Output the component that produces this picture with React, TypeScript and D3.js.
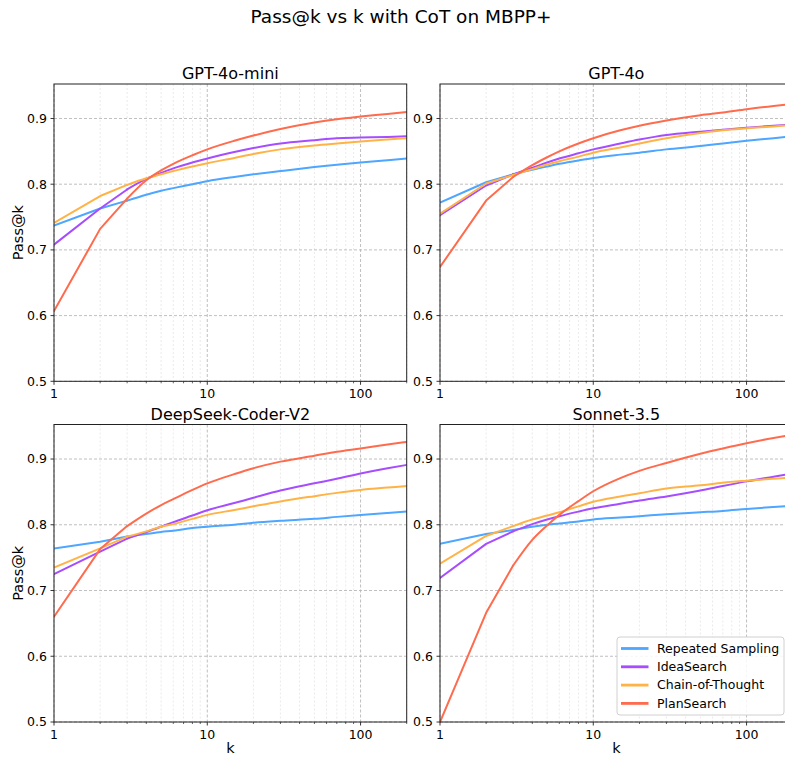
import React from "react";
import * as d3 from "d3";

const K = [1, 2, 3, 4, 5, 6, 8, 10, 15, 20, 30, 50, 70, 100, 150, 200];

const SERIES_NAMES = ["Repeated Sampling", "IdeaSearch", "Chain-of-Thought", "PlanSearch"];
const SERIES_COLORS = ["#4da6ff", "#a64dff", "#ffb347", "#ff6b4d"];

const PANEL_TITLES = ["GPT-4o-mini", "GPT-4o", "DeepSeek-Coder-V2", "Sonnet-3.5"];

// GPT-4o-mini
const miniRS = [0.737, 0.763, 0.775, 0.784, 0.790, 0.794, 0.800, 0.8046, 0.811, 0.815, 0.820, 0.826, 0.8295, 0.833, 0.8365, 0.839];
const miniIdea = [0.708, 0.763, 0.792, 0.808, 0.817, 0.824, 0.833, 0.839, 0.849, 0.855, 0.862, 0.867, 0.870, 0.871, 0.872, 0.873];
const miniCoT = [0.741, 0.782, 0.799, 0.809, 0.815, 0.820, 0.827, 0.832, 0.840, 0.846, 0.853, 0.859, 0.862, 0.865, 0.868, 0.870];
const miniPlan = [0.607, 0.732, 0.778, 0.806, 0.821, 0.831, 0.844, 0.853, 0.866, 0.874, 0.884, 0.894, 0.899, 0.903, 0.907, 0.910];

// GPT-4o
const gpt4oRS = [0.772, 0.803, 0.815, 0.822, 0.827, 0.831, 0.836, 0.840, 0.845, 0.848, 0.853, 0.858, 0.862, 0.866, 0.870, 0.873];
const gpt4oIdea = [0.753, 0.798, 0.815, 0.825, 0.833, 0.839, 0.847, 0.853, 0.862, 0.868, 0.875, 0.880, 0.883, 0.886, 0.889, 0.891];
const gpt4oCoT = [0.755, 0.801, 0.814, 0.823, 0.830, 0.835, 0.842, 0.848, 0.856, 0.862, 0.870, 0.878, 0.882, 0.885, 0.888, 0.890];
const gpt4oPlan = [0.674, 0.775, 0.811, 0.829, 0.841, 0.850, 0.862, 0.870, 0.882, 0.889, 0.897, 0.905, 0.909, 0.914, 0.919, 0.922];

// DeepSeek-Coder-V2
const dsRS = [0.764, 0.774, 0.782, 0.786, 0.789, 0.791, 0.795, 0.797, 0.800, 0.803, 0.806, 0.809, 0.812, 0.815, 0.818, 0.820];
const dsIdea = [0.725, 0.759, 0.779, 0.789, 0.797, 0.804, 0.814, 0.822, 0.833, 0.841, 0.852, 0.863, 0.870, 0.878, 0.886, 0.891];
const dsCoT = [0.735, 0.764, 0.782, 0.790, 0.797, 0.801, 0.809, 0.815, 0.8225, 0.828, 0.8355, 0.8435, 0.8485, 0.853, 0.8565, 0.859];
const dsPlan = [0.660, 0.763, 0.798, 0.817, 0.830, 0.839, 0.853, 0.863, 0.877, 0.886, 0.896, 0.905, 0.911, 0.916, 0.922, 0.926];

// Sonnet-3.5
const sonRS = [0.771, 0.786, 0.792, 0.797, 0.800, 0.802, 0.805, 0.808, 0.811, 0.813, 0.816, 0.819, 0.821, 0.824, 0.827, 0.829];
const sonIdea = [0.719, 0.771, 0.790, 0.801, 0.808, 0.813, 0.820, 0.825, 0.832, 0.837, 0.843, 0.852, 0.859, 0.866, 0.873, 0.878];
const sonCoT = [0.741, 0.783, 0.798, 0.808, 0.814, 0.819, 0.828, 0.835, 0.843, 0.848, 0.855, 0.860, 0.864, 0.867, 0.870, 0.872];
const sonPlan = [0.500, 0.666, 0.738, 0.777, 0.799, 0.815, 0.836, 0.851, 0.871, 0.882, 0.894, 0.908, 0.916, 0.924, 0.932, 0.937];

const Y_TICKS = [0.5, 0.6, 0.7, 0.8, 0.9];
const X_TICK_LABELS = ["1", "10", "100"];

const PANEL_DATA = [
  [miniRS, miniIdea, miniCoT, miniPlan],
  [gpt4oRS, gpt4oIdea, gpt4oCoT, gpt4oPlan],
  [dsRS, dsIdea, dsCoT, dsPlan],
  [sonRS, sonIdea, sonCoT, sonPlan],
];

const W = 785;
const H = 759;
const FONT = "DejaVu Sans, sans-serif";

const PANEL_BOXES = [
  { x: 54, y: 84, w: 352.7, h: 297.3 },
  { x: 440, y: 84, w: 352.7, h: 297.3 },
  { x: 54, y: 424.5, w: 352.7, h: 297.5 },
  { x: 440, y: 424.5, w: 352.7, h: 297.5 },
];

function Panel({ idx }: { idx: number }) {
  const b = PANEL_BOXES[idx];
  const x = d3.scaleLog().domain([1, 200]).range([b.x, b.x + b.w]);
  const y = d3.scaleLinear().domain([0.5, 0.9525]).range([b.y + b.h, b.y]);
  const xt = x.ticks();
  const lineLin = d3
    .line<[number, number]>()
    .x((d) => x(d[0]))
    .y((d) => y(d[1]));
  const lineSmooth = d3
    .line<[number, number]>()
    .x((d) => x(d[0]))
    .y((d) => y(d[1]))
    .curve(d3.curveMonotoneX);
  const isMajor = (t: number) => Math.abs(Math.log10(t) - Math.round(Math.log10(t))) < 1e-9;
  const clipId = `clip${idx}`;
  const left = idx % 2 === 0;
  const bottom = idx >= 2;
  return (
    <g>
      <defs>
        <clipPath id={clipId}>
          <rect x={b.x} y={b.y - 1} width={b.w} height={b.h + 2} />
        </clipPath>
      </defs>
      {xt.filter((t) => !isMajor(t)).map((t) => (
        <line key={"mg" + t} x1={x(t)} x2={x(t)} y1={b.y} y2={b.y + b.h}
          stroke="#e4e4e4" strokeWidth={0.8} strokeDasharray="2,2" />
      ))}
      {xt.filter((t) => isMajor(t)).map((t) => (
        <line key={"Mg" + t} x1={x(t)} x2={x(t)} y1={b.y} y2={b.y + b.h}
          stroke="#b8b8b8" strokeWidth={0.9} strokeDasharray="3,2" />
      ))}
      {Y_TICKS.map((t) => (
        <line key={"yg" + t} x1={b.x} x2={b.x + b.w} y1={y(t)} y2={y(t)}
          stroke="#b8b8b8" strokeWidth={0.9} strokeDasharray="3,2" />
      ))}
      <g clipPath={`url(#${clipId})`}>
        {PANEL_DATA[idx].map((vals, si) => {
          const pts = K.map((k, i) => [k, vals[i]] as [number, number]);
          return (
            <g key={si}>
              <path d={lineLin(pts.slice(0, 3)) || ""} fill="none" stroke={SERIES_COLORS[si]}
                strokeWidth={2} strokeLinejoin="round" strokeLinecap="round" />
              <path d={lineSmooth(pts.slice(2)) || ""} fill="none" stroke={SERIES_COLORS[si]}
                strokeWidth={2} strokeLinejoin="round" strokeLinecap="round" />
            </g>
          );
        })}
      </g>
      <rect x={b.x} y={b.y} width={b.w} height={b.h} fill="none" stroke="#222" strokeWidth={1} />
      {Y_TICKS.map((t) => (
        <g key={"yt" + t}>
          <line x1={b.x - 3.5} x2={b.x} y1={y(t)} y2={y(t)} stroke="#222" strokeWidth={0.9} />
          <text x={b.x - 7} y={y(t)} dy="0.35em" textAnchor="end" fontSize={12.5} fontFamily={FONT} fill="#000">
            {d3.format(".1f")(t)}
          </text>
        </g>
      ))}
      {xt.map((t) => (
        <line key={"xt" + t} x1={x(t)} x2={x(t)} y1={b.y + b.h} y2={b.y + b.h + (isMajor(t) ? 3.5 : 2)}
          stroke="#222" strokeWidth={isMajor(t) ? 0.9 : 0.7} />
      ))}
      {xt.filter((t) => isMajor(t)).map((t, i) => (
        <text key={"xl" + t} x={x(t)} y={b.y + b.h + 7} dy="0.8em" textAnchor="middle" fontSize={12.5} fontFamily={FONT} fill="#000">
          {X_TICK_LABELS[i]}
        </text>
      ))}
      <text x={b.x + b.w / 2} y={b.y - 5} textAnchor="middle" fontSize={16} fontFamily={FONT} fill="#000">
        {PANEL_TITLES[idx]}
      </text>
      {left && (
        <text transform={`translate(18,${b.y + b.h / 2}) rotate(-90)`} textAnchor="middle" dy="0.35em"
          fontSize={14.5} fontFamily={FONT} fill="#000">Pass@k</text>
      )}
      {bottom && (
        <text x={b.x + b.w / 2} y={748} dy="0.35em" textAnchor="middle" fontSize={14.5} fontFamily={FONT} fill="#000">k</text>
      )}
    </g>
  );
}

function Legend() {
  const lx = 617;
  const ly = 637;
  const lw = 167;
  const lh = 78;
  return (
    <g>
      <rect x={lx} y={ly} width={lw} height={lh} rx={3} fill="#fff" fillOpacity={0.85} stroke="#d0d0d0" strokeWidth={1} />
      {SERIES_NAMES.map((n, i) => {
        const cy = ly + 11.5 + i * 18.3;
        return (
          <g key={n}>
            <line x1={lx + 4} x2={lx + 31.5} y1={cy} y2={cy} stroke={SERIES_COLORS[i]} strokeWidth={2.8} />
            <text x={lx + 40} y={cy} dy="0.35em" fontSize={12.5} fontFamily={FONT} fill="#000">{n}</text>
          </g>
        );
      })}
    </g>
  );
}

export default function App() {
  return (
    <svg width={W} height={H} style={{ position: "absolute", left: 0, top: 0, background: "#fff" }}>
      <rect x={0} y={0} width={W} height={H} fill="#fff" />
      <text x={401} y={23} textAnchor="middle" fontSize={18.5} fontFamily={FONT} fill="#000">
        Pass@k vs k with CoT on MBPP+
      </text>
      {[0, 1, 2, 3].map((i) => (
        <Panel key={i} idx={i} />
      ))}
      <Legend />
    </svg>
  );
}
